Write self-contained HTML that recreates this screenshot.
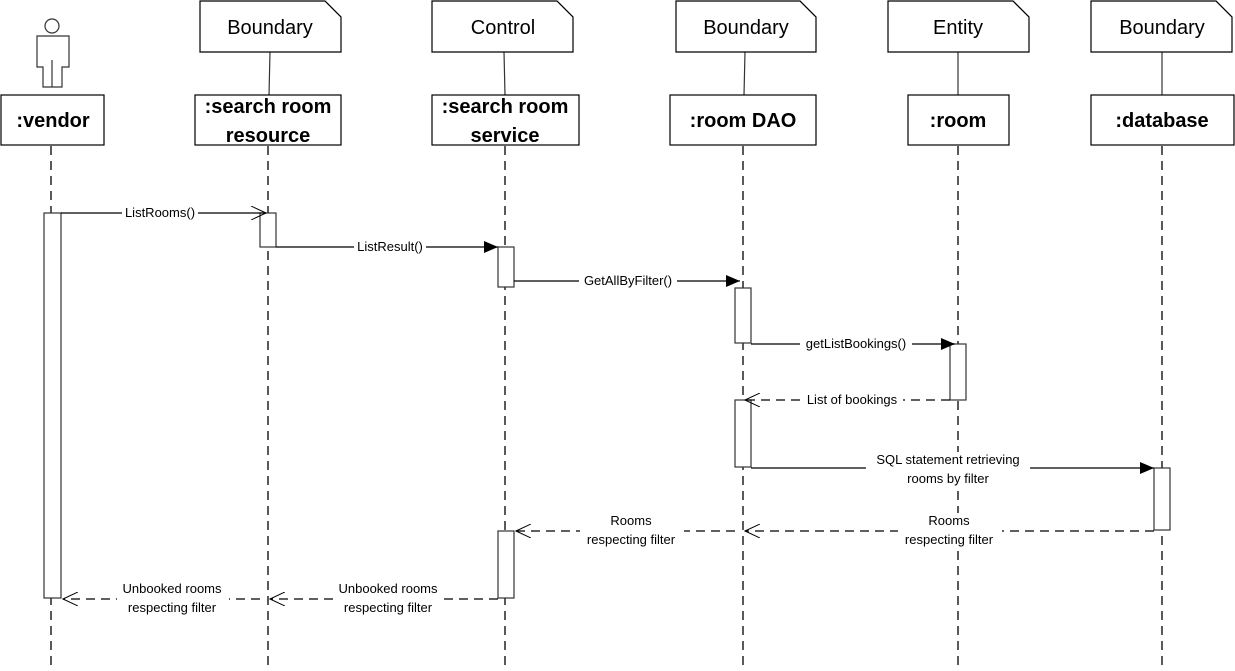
<!DOCTYPE html>
<html><head><meta charset="utf-8"><style>
html,body{margin:0;padding:0;background:#fff;}
svg{display:block;font-family:"Liberation Sans","DejaVu Sans",sans-serif;}
</style></head><body>
<svg width="1235" height="671" viewBox="0 0 1235 671">
<defs>
<marker id="f" markerWidth="14" markerHeight="12" refX="14" refY="6" orient="auto" markerUnits="userSpaceOnUse"><path d="M0,0 L14,6 L0,12 z" fill="#000"/></marker>
<marker id="o" markerWidth="16" markerHeight="14" refX="15" refY="7" orient="auto" markerUnits="userSpaceOnUse"><path d="M0,0 L15,7 L0,14" fill="none" stroke="#000"/></marker>
</defs>
<g stroke="#000" stroke-width="1.3" fill="none" stroke-dasharray="9,6">
<line x1="51" y1="146" x2="51" y2="671"/>
<line x1="268" y1="146" x2="268" y2="671"/>
<line x1="505" y1="146" x2="505" y2="671"/>
<line x1="743" y1="146" x2="743" y2="671"/>
<line x1="958" y1="146" x2="958" y2="671"/>
<line x1="1162" y1="146" x2="1162" y2="671"/>
</g>
<g stroke="#333" fill="none" stroke-width="1.2">
<line x1="270" y1="52" x2="269" y2="95"/><line x1="504" y1="52" x2="505" y2="95"/>
<line x1="745" y1="52" x2="744" y2="95"/><line x1="958" y1="52" x2="958" y2="95"/>
<line x1="1162" y1="52" x2="1162" y2="95"/>
</g>
<g stroke="#000" fill="#fff" stroke-width="1.2">
<path d="M200,1 H325 L341,17 V52 H200 Z"/><path d="M432,1 H557 L573,17 V52 H432 Z"/>
<path d="M676,1 H800 L816,17 V52 H676 Z"/><path d="M888,1 H1013 L1029,17 V52 H888 Z"/>
<path d="M1091,1 H1216 L1232,17 V52 H1091 Z"/>
<rect x="1" y="95" width="103" height="50"/><rect x="195" y="95" width="146" height="50"/>
<rect x="432" y="95" width="147" height="50"/><rect x="670" y="95" width="146" height="50"/>
<rect x="908" y="95" width="101" height="50"/><rect x="1091" y="95" width="143" height="50"/>
</g>
<g stroke="#000" fill="none" stroke-width="1">
<line x1="325" y1="1" x2="341" y2="17"/><line x1="557" y1="1" x2="573" y2="17"/>
<line x1="800" y1="1" x2="816" y2="17"/><line x1="1013" y1="1" x2="1029" y2="17"/>
<line x1="1216" y1="1" x2="1232" y2="17"/>
</g>
<g stroke="#333" fill="#fff" stroke-width="1.2">
<circle cx="52" cy="26" r="7"/>
<path d="M37,36 H69 V67 H62 V87 H43 V67 H37 Z"/>
<line x1="52" y1="60" x2="52" y2="87"/>
</g>
<g font-size="20" text-anchor="middle" fill="#000">
<text x="270" y="34">Boundary</text><text x="503" y="34">Control</text>
<text x="746" y="34">Boundary</text><text x="958" y="34">Entity</text>
<text x="1162" y="34">Boundary</text>
</g>
<g font-size="20" font-weight="bold" text-anchor="middle" fill="#000">
<text x="53" y="127">:vendor</text>
<text x="268" y="113">:search room</text><text x="268" y="142">resource</text>
<text x="505" y="113">:search room</text><text x="505" y="142">service</text>
<text x="743" y="127">:room DAO</text><text x="958" y="127">:room</text>
<text x="1162" y="127">:database</text>
</g>
<g stroke="#333" fill="#fff" stroke-width="1.2">
<rect x="44" y="213" width="17" height="385"/>
<rect x="260" y="213" width="16" height="34"/>
<rect x="498" y="247" width="16" height="40"/>
<rect x="498" y="531" width="16" height="67"/>
<rect x="735" y="288" width="16" height="55"/>
<rect x="735" y="400" width="16" height="67"/>
<rect x="950" y="344" width="16" height="56"/>
<rect x="1154" y="468" width="16" height="62"/>
</g>
<g stroke="#000" stroke-width="1.2" fill="none">
<line x1="61" y1="213" x2="266" y2="213" marker-end="url(#o)"/>
<line x1="276" y1="247" x2="498" y2="247" marker-end="url(#f)"/>
<line x1="514" y1="281" x2="740" y2="281" marker-end="url(#f)"/>
<line x1="751" y1="344" x2="955" y2="344" marker-end="url(#f)"/>
<line x1="751" y1="468" x2="1154" y2="468" marker-end="url(#f)"/>
</g>
<g stroke="#000" stroke-width="1.2" fill="none" stroke-dasharray="9,6">
<line x1="950" y1="400" x2="745" y2="400" marker-end="url(#o)"/>
<line x1="1154" y1="531" x2="745" y2="531" marker-end="url(#o)"/>
<line x1="735" y1="531" x2="516" y2="531" marker-end="url(#o)"/>
<line x1="498" y1="599" x2="270" y2="599" marker-end="url(#o)"/>
<line x1="260" y1="599" x2="63" y2="599" marker-end="url(#o)"/>
</g>
<g font-size="13" text-anchor="middle" fill="#000">
<g fill="#fff" stroke="none">
<rect x="122" y="205" width="76" height="16"/><rect x="354" y="239" width="72" height="16"/>
<rect x="579" y="273" width="98" height="16"/><rect x="800" y="336" width="112" height="16"/>
<rect x="801" y="392" width="102" height="16"/><rect x="866" y="452" width="164" height="34"/>
<rect x="898" y="513" width="104" height="36"/><rect x="580" y="513" width="104" height="36"/>
<rect x="335" y="581" width="106" height="36"/><rect x="117" y="581" width="112" height="36"/>
</g>
<text x="160" y="217">ListRooms()</text>
<text x="390" y="251">ListResult()</text>
<text x="628" y="285">GetAllByFilter()</text>
<text x="856" y="348">getListBookings()</text>
<text x="852" y="404">List of bookings</text>
<text x="948" y="464">SQL statement retrieving</text><text x="948" y="483">rooms by filter</text>
<text x="949" y="525">Rooms</text><text x="949" y="544">respecting filter</text>
<text x="631" y="525">Rooms</text><text x="631" y="544">respecting filter</text>
<text x="388" y="593">Unbooked rooms</text><text x="388" y="612">respecting filter</text>
<text x="172" y="593">Unbooked rooms</text><text x="172" y="612">respecting filter</text>
</g>
</svg>
</body></html>
